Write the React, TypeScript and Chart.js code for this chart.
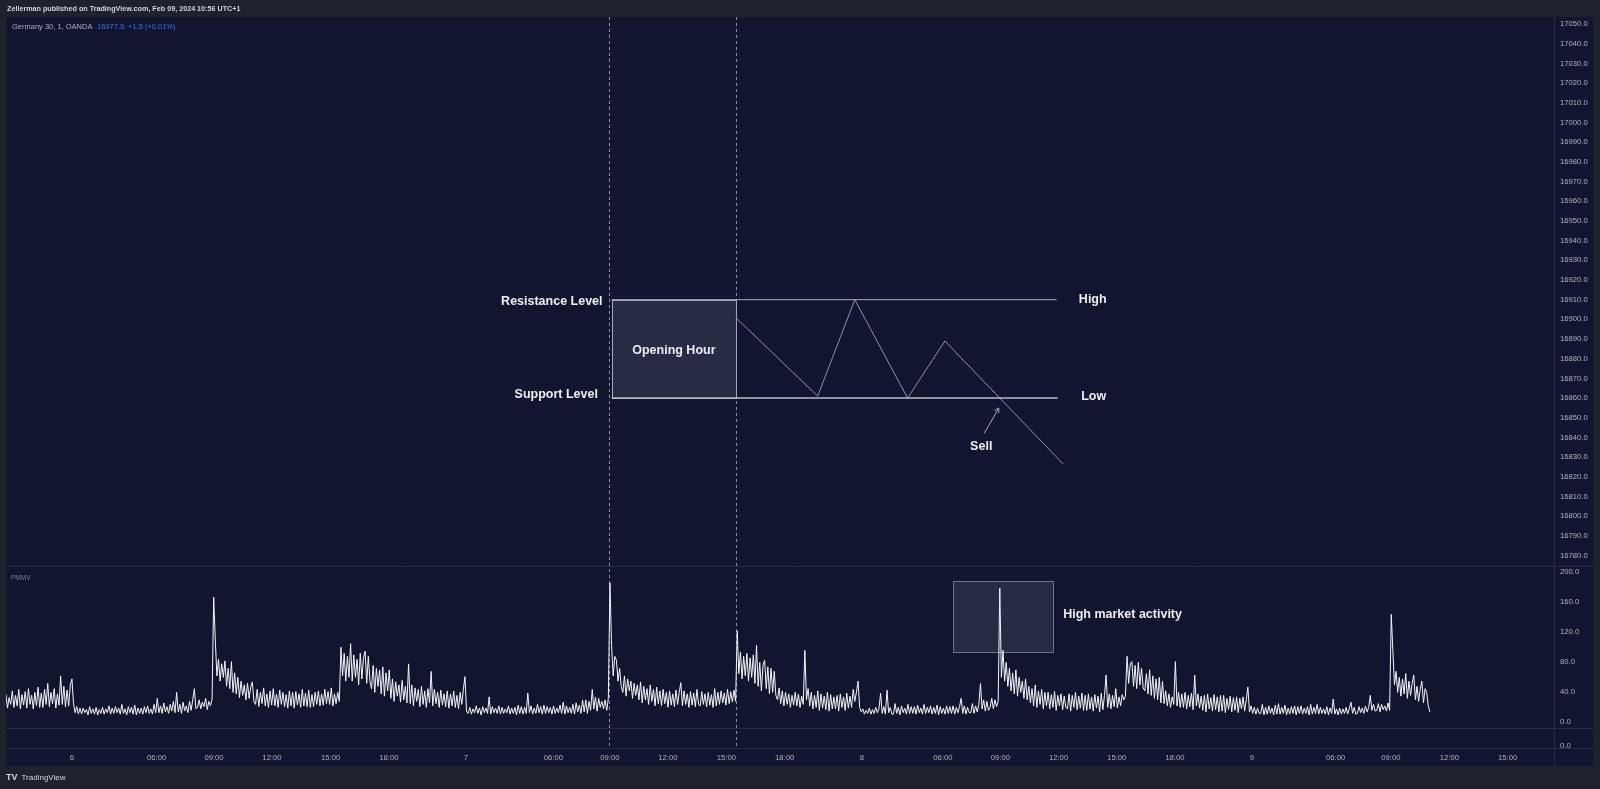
import React, { useEffect, useRef } from "react";
import { Chart, registerables } from "chart.js";

Chart.register(...registerables);

// ---------------- data ----------------
// x unit: trading-session hours, 0 = first bar of day "6"
const X_TICK_LABELS = [
  "6", "06:00", "09:00", "12:00", "15:00", "18:00",
  "7", "06:00", "09:00", "12:00", "15:00", "18:00",
  "8", "06:00", "09:00", "12:00", "15:00", "18:00",
  "9", "06:00", "09:00", "12:00", "15:00",
];
const X_TICK_HOURS = [
  0, 4.38, 7.35, 10.35, 13.38, 16.4,
  20.38, 24.91, 27.83, 30.83, 33.86, 36.87,
  40.87, 45.06, 48.03, 51.04, 54.05, 57.06,
  61.04, 65.37, 68.23, 71.26, 74.27,
];
const PRICE_TICKS = [
  16780, 16790, 16800, 16810, 16820, 16830, 16840, 16850, 16860, 16870,
  16880, 16890, 16900, 16910, 16920, 16930, 16940, 16950, 16960, 16970,
  16980, 16990, 17000, 17010, 17020, 17030, 17040, 17050,
];
const PMMV_TICKS = [0, 40, 80, 120, 160, 200];
const EMPTY_PANE_TICKS = [0];

// PMMV indicator, sampled every 5 minutes starting at -3.5 session hours (one row = one hour)
const PMMV_START_H = -3.5;
const PMMV_STEP_H = 1 / 12;
const PMMV_VALUES = [
  21, 38, 19, 33, 24, 42, 20, 36, 22, 44, 18, 37,
  23, 41, 19, 45, 24, 36, 18, 40, 22, 47, 20, 39,
  20, 44, 24, 52, 21, 40, 25, 45, 19, 38, 23, 62,
  24, 48, 21, 43, 22, 50, 58, 25, 13, 21, 11, 19,
  11, 19, 13, 17, 10, 21, 12, 18, 11, 20, 10, 17,
  12, 20, 11, 18, 13, 22, 11, 19, 12, 21, 13, 19,
  11, 24, 12, 18, 10, 21, 13, 20, 11, 23, 10, 19,
  12, 19, 11, 21, 13, 22, 12, 18, 11, 24, 13, 32,
  13, 22, 12, 26, 14, 21, 12, 24, 15, 28, 13, 40,
  14, 24, 12, 27, 15, 22, 13, 28, 16, 30, 45, 18,
  20, 30, 18, 27, 21, 32, 17, 28, 22, 31, 167, 110,
  62, 84, 55, 78, 60, 82, 48, 72, 45, 81, 40, 66,
  38, 60, 33, 55, 36, 50, 30, 52, 32, 47, 54, 28,
  24, 44, 21, 40, 25, 46, 22, 38, 20, 42, 23, 45,
  22, 38, 20, 43, 24, 40, 21, 37, 19, 42, 22, 40,
  19, 41, 23, 38, 20, 44, 22, 39, 21, 43, 20, 37,
  21, 40, 24, 42, 22, 38, 23, 44, 25, 41, 24, 46,
  22, 38, 25, 40, 28, 100, 62, 92, 55, 88, 60, 105,
  55, 90, 60, 84, 50, 92, 58, 86, 95, 52, 88, 55,
  45, 76, 40, 72, 48, 70, 38, 74, 35, 66, 42, 70,
  32, 58, 28, 54, 35, 50, 27, 56, 30, 48, 26, 78,
  25, 50, 22, 46, 28, 44, 21, 48, 24, 42, 20, 45,
  26, 68, 22, 44, 25, 40, 20, 43, 23, 38, 21, 42,
  19, 38, 22, 42, 20, 36, 18, 40, 24, 44, 61, 14,
  12, 20, 11, 18, 13, 22, 12, 19, 10, 21, 13, 19,
  12, 34, 11, 21, 13, 19, 12, 22, 11, 20, 12, 18,
  13, 22, 11, 19, 12, 20, 10, 23, 12, 21, 11, 20,
  12, 39, 13, 22, 11, 19, 12, 24, 13, 21, 11, 23,
  12, 21, 13, 20, 11, 22, 12, 19, 13, 23, 12, 27,
  11, 22, 13, 20, 12, 24, 11, 26, 14, 23, 12, 30,
  14, 30, 12, 28, 16, 44, 18, 34, 15, 32, 20, 28,
  18, 30, 16, 32, 186, 103, 62, 88, 83, 55, 72, 48,
  40, 62, 35, 58, 42, 55, 32, 52, 36, 50, 30, 54,
  26, 48, 30, 45, 24, 50, 28, 44, 22, 47, 25, 42,
  22, 44, 25, 40, 20, 42, 23, 38, 21, 43, 24, 40,
  53, 22, 42, 24, 38, 20, 41, 23, 39, 21, 44, 24,
  22, 41, 24, 38, 21, 40, 23, 37, 20, 45, 22, 40,
  24, 42, 26, 39, 23, 44, 25, 41, 27, 43, 28, 122,
  65, 94, 58, 88, 62, 92, 55, 86, 60, 90, 52, 103,
  48, 80, 42, 76, 83, 45, 74, 38, 72, 40, 68, 36,
  30, 46, 25, 42, 22, 40, 24, 38, 20, 36, 23, 40,
  22, 38, 20, 35, 24, 96, 30, 45, 22, 40, 18, 36,
  20, 42, 16, 38, 19, 35, 17, 40, 15, 37, 18, 34,
  18, 36, 15, 38, 20, 34, 16, 39, 19, 35, 20, 44,
  28, 40, 55, 20, 14, 18, 11, 16, 12, 19, 11, 17,
  12, 20, 13, 18, 39, 12, 21, 11, 43, 13, 20, 11,
  11, 25, 12, 20, 10, 22, 13, 19, 11, 24, 12, 21,
  12, 21, 11, 23, 13, 19, 11, 24, 12, 20, 13, 22,
  11, 20, 12, 23, 10, 21, 12, 19, 11, 22, 12, 21,
  12, 22, 11, 20, 13, 21, 32, 12, 22, 11, 20, 13,
  13, 25, 12, 22, 14, 24, 52, 18, 30, 15, 28, 16,
  20, 32, 18, 30, 21, 28, 179, 60, 96, 55, 80, 48,
  72, 42, 66, 38, 70, 35, 60, 40, 55, 32, 58, 30,
  48, 26, 45, 22, 50, 20, 42, 24, 44, 18, 40, 22,
  40, 18, 37, 20, 41, 16, 36, 22, 38, 17, 35, 20,
  18, 38, 15, 36, 20, 40, 17, 35, 19, 39, 16, 36,
  16, 38, 18, 34, 15, 37, 19, 35, 14, 39, 17, 36,
  63, 20, 38, 18, 36, 21, 45, 19, 34, 22, 37, 30,
  35, 88, 52, 78, 81, 48, 76, 45, 80, 50, 72, 46,
  42, 65, 38, 70, 36, 62, 32, 58, 30, 60, 26, 55,
  25, 42, 22, 38, 20, 34, 24, 81, 22, 40, 20, 38,
  20, 40, 18, 36, 21, 39, 17, 63, 22, 38, 19, 35,
  16, 36, 14, 38, 18, 33, 15, 37, 17, 34, 14, 36,
  15, 36, 13, 32, 17, 35, 14, 33, 16, 34, 13, 32,
  18, 34, 15, 30, 47, 14, 22, 12, 20, 11, 19, 12,
  12, 24, 10, 20, 11, 22, 12, 19, 10, 23, 11, 25,
  11, 20, 12, 23, 10, 19, 11, 21, 12, 22, 10, 21,
  12, 22, 11, 19, 12, 21, 10, 24, 11, 20, 12, 24,
  11, 20, 12, 18, 11, 21, 10, 19, 12, 31, 11, 18,
  10, 19, 11, 18, 12, 20, 11, 19, 27, 12, 20, 11,
  12, 21, 13, 19, 12, 22, 14, 20, 36, 16, 24, 15,
  16, 25, 14, 24, 17, 22, 15, 26, 16, 144, 96, 50,
  68, 40, 60, 35, 58, 38, 65, 32, 55, 36, 52, 63,
  30, 48, 28, 44, 55, 26, 45, 40, 22, 14,
];

// drawings on the price pane
const RANGE_HIGH = 16910;
const RANGE_LOW = 16860;
const OPEN_BOX_X = [27.92, 34.33];
const RESISTANCE_X = [27.92, 50.94];
const SUPPORT_X = [27.92, 51.0];
const ZIGZAG_X = [34.33, 38.58, 40.5, 43.23, 45.16, 51.28];
const ZIGZAG_Y = [16901, 16861, 16910, 16860, 16889, 16826.5];
const SELL_ARROW_X = [47.19, 47.95];
const SELL_ARROW_Y = [16842, 16855];
const SESSION_LINES_X = [27.8, 34.36];
// drawing on the PMMV pane
const ACTIVITY_BOX_X = [45.59, 50.73];
const ACTIVITY_BOX_Y = [94, 189];

const PRICE_NOTES = [
  { text: "Resistance Level", x: 27.45, y: 16909.3, align: "right" },
  { text: "Support Level", x: 27.21, y: 16861.6, align: "right" },
  { text: "Opening Hour", x: 31.14, y: 16884.4, align: "center" },
  { text: "High", x: 52.09, y: 16910.2, align: "left" },
  { text: "Low", x: 52.21, y: 16860.6, align: "left" },
  { text: "Sell", x: 47.04, y: 16835.3, align: "center" },
];
const PMMV_NOTES = [{ text: "High market activity", x: 51.28, y: 143.2, align: "left" }];

// ---------------- styles ----------------
const FRAME = "#1e222d";
const NAVY = "#121530";
const SEP = "#262b42";
const AXIS_TXT = "#aeb1ba";
const NOTE_TXT = "#eceef2";
const NOTE_FONT = "bold 12.5px 'Liberation Sans', Arial, sans-serif";
const AXIS_FONT = { family: "'Liberation Sans', Arial, sans-serif", size: 7.7 };

const pairs = (xs: number[], ys: number[]) => xs.map((x, i) => ({ x, y: ys[i] }));

const decor = {
  id: "tvDecor",
  beforeDraw(chart: any) {
    const { ctx } = chart;
    ctx.save();
    ctx.fillStyle = FRAME;
    ctx.fillRect(0, 0, 1600, 789);
    ctx.fillStyle = NAVY;
    ctx.fillRect(6, 17, 1587, 749);
    ctx.restore();
  },
  beforeDatasetsDraw(chart: any) {
    const { ctx, chartArea } = chart;
    const { x, y, yp } = chart.scales;
    ctx.save();
    ctx.strokeStyle = "#8a8d97";
    ctx.lineWidth = 1;
    ctx.setLineDash([3, 3]);
    for (const v of SESSION_LINES_X) {
      const px = Math.round(x.getPixelForValue(v)) + 0.5;
      ctx.beginPath();
      ctx.moveTo(px, chartArea.top);
      ctx.lineTo(px, chartArea.bottom);
      ctx.stroke();
    }
    ctx.setLineDash([]);
    const box = (xs: number[], ys: number[], sc: any, fill: string, stroke: string) => {
      const x0 = Math.round(x.getPixelForValue(xs[0])) + 0.5;
      const x1 = Math.round(x.getPixelForValue(xs[1])) + 0.5;
      const y0 = Math.round(sc.getPixelForValue(ys[1])) + 0.5;
      const y1 = Math.round(sc.getPixelForValue(ys[0])) + 0.5;
      ctx.fillStyle = fill;
      ctx.fillRect(x0, y0, x1 - x0, y1 - y0);
      ctx.strokeStyle = stroke;
      ctx.strokeRect(x0, y0, x1 - x0, y1 - y0);
    };
    box(OPEN_BOX_X, [RANGE_LOW, RANGE_HIGH], y, "rgba(120,123,140,0.22)", "#a3a6b0");
    box(ACTIVITY_BOX_X, ACTIVITY_BOX_Y, yp, "rgba(120,123,140,0.22)", "#6f7280");
    ctx.restore();
  },
  afterDatasetsDraw(chart: any) {
    const { ctx } = chart;
    const { x, y, yp } = chart.scales;
    ctx.save();
    const ax0 = x.getPixelForValue(SELL_ARROW_X[0]);
    const ay0 = y.getPixelForValue(SELL_ARROW_Y[0]);
    const ax1 = x.getPixelForValue(SELL_ARROW_X[1]);
    const ay1 = y.getPixelForValue(SELL_ARROW_Y[1]);
    const ang = Math.atan2(ay1 - ay0, ax1 - ax0);
    ctx.strokeStyle = "#a3a6b0";
    ctx.lineWidth = 1;
    ctx.beginPath();
    for (const d of [-0.5, 0.5]) {
      ctx.moveTo(ax1, ay1);
      ctx.lineTo(ax1 - 5 * Math.cos(ang + d), ay1 - 5 * Math.sin(ang + d));
    }
    ctx.stroke();
    ctx.fillStyle = NOTE_TXT;
    ctx.font = NOTE_FONT;
    ctx.textBaseline = "middle";
    for (const n of PRICE_NOTES) {
      ctx.textAlign = n.align;
      ctx.fillText(n.text, x.getPixelForValue(n.x), y.getPixelForValue(n.y));
    }
    for (const n of PMMV_NOTES) {
      ctx.textAlign = n.align;
      ctx.fillText(n.text, x.getPixelForValue(n.x), yp.getPixelForValue(n.y));
    }
    ctx.restore();
  },
  afterDraw(chart: any) {
    const { ctx } = chart;
    ctx.save();
    ctx.strokeStyle = SEP;
    ctx.lineWidth = 1;
    ctx.beginPath();
    ctx.moveTo(6, 566.5); ctx.lineTo(1593, 566.5);
    ctx.moveTo(6, 728.5); ctx.lineTo(1593, 728.5);
    ctx.moveTo(1554, 748.5); ctx.lineTo(1593, 748.5);
    ctx.moveTo(1554.5, 748); ctx.lineTo(1554.5, 766);
    ctx.stroke();
    ctx.textBaseline = "middle";
    ctx.textAlign = "left";
    ctx.fillStyle = "#d1d4dc";
    ctx.font = "bold 7.2px 'Liberation Sans', Arial, sans-serif";
    ctx.fillText("Zellerman published on TradingView.com, Feb 09, 2024 10:56 UTC+1", 7, 9.5);
    ctx.font = "7.5px 'Liberation Sans', Arial, sans-serif";
    ctx.fillStyle = "#a9acb6";
    ctx.fillText("Germany 30, 1, OANDA", 12, 27);
    ctx.fillStyle = "#3a6df0";
    ctx.fillText("16977.5", 97, 27);
    ctx.fillText("+1.5 (+0.01%)", 128, 27);
    ctx.fillStyle = "#7b7f8c";
    ctx.font = "6.5px 'Liberation Sans', Arial, sans-serif";
    ctx.fillText("PMMV", 11, 578);
    ctx.fillStyle = "#d1d4dc";
    ctx.font = "bold 9px 'Liberation Sans', Arial, sans-serif";
    ctx.fillText("TV", 6, 778);
    ctx.font = "8px 'Liberation Sans', Arial, sans-serif";
    ctx.fillText("TradingView", 21.5, 778);
    ctx.restore();
  },
};

const yAxisBase = (ticks: number[], fmt: (v: number) => string) => ({
  type: "linear" as const,
  position: "right" as const,
  stack: "panes",
  grid: { display: false, drawTicks: false },
  border: { display: true, color: SEP },
  afterBuildTicks: (s: any) => {
    s.ticks = ticks.map((v) => ({ value: v }));
  },
  afterFit: (s: any) => {
    s.width = 39;
  },
  ticks: {
    padding: 6,
    color: AXIS_TXT,
    font: AXIS_FONT,
    autoSkip: false,
    callback: (v: any) => fmt(Number(v)),
  },
});

export default function App() {
  const ref = useRef<HTMLCanvasElement>(null);
  useEffect(() => {
    const canvas = ref.current;
    if (!canvas) return;
    const pmmvData = PMMV_VALUES.map((v, i) => ({ x: PMMV_START_H + i * PMMV_STEP_H, y: v }));
    const chart = new Chart(canvas, {
      type: "line",
      data: {
        datasets: [
          {
            label: "PMMV",
            data: pmmvData,
            yAxisID: "yp",
            borderColor: "#f4f5f8",
            borderWidth: 1,
            pointRadius: 0,
            tension: 0,
          },
          {
            label: "Resistance",
            data: pairs(RESISTANCE_X, [RANGE_HIGH, RANGE_HIGH]),
            yAxisID: "y",
            borderColor: "#a9acb6",
            borderWidth: 1,
            pointRadius: 0,
          },
          {
            label: "Support",
            data: pairs(SUPPORT_X, [RANGE_LOW, RANGE_LOW]),
            yAxisID: "y",
            borderColor: "#b8bbc4",
            borderWidth: 1.5,
            pointRadius: 0,
          },
          {
            label: "Path",
            data: pairs(ZIGZAG_X, ZIGZAG_Y),
            yAxisID: "y",
            borderColor: "#8f929c",
            borderWidth: 1,
            pointRadius: 0,
            tension: 0,
          },
          {
            label: "Sell arrow",
            data: pairs(SELL_ARROW_X, SELL_ARROW_Y),
            yAxisID: "y",
            borderColor: "#a3a6b0",
            borderWidth: 1,
            pointRadius: 0,
          },
        ],
      },
      options: {
        responsive: false,
        maintainAspectRatio: false,
        devicePixelRatio: 1,
        animation: false,
        events: [],
        layout: { padding: { left: 6, top: 17, right: 7, bottom: 23 } },
        plugins: { legend: { display: false }, tooltip: { enabled: false } },
        scales: {
          x: {
            type: "linear",
            position: "bottom",
            min: -3.41,
            max: 76.67,
            grid: { display: false, drawTicks: false },
            border: { display: true, color: SEP },
            afterBuildTicks: (s: any) => {
              s.ticks = X_TICK_HOURS.map((v) => ({ value: v }));
            },
            afterFit: (s: any) => {
              s.height = 18;
            },
            ticks: {
              autoSkip: false,
              maxRotation: 0,
              minRotation: 0,
              padding: 5,
              color: AXIS_TXT,
              font: AXIS_FONT,
              callback: (_v: any, i: number) => X_TICK_LABELS[i],
            },
          },
          y: { ...yAxisBase(PRICE_TICKS, (v) => v.toFixed(1)), stackWeight: 549, min: 16774.7, max: 17053.6 },
          yp: { ...yAxisBase(PMMV_TICKS, (v) => v.toFixed(1)), stackWeight: 162, min: -7.5, max: 208.5 },
          y3: { ...yAxisBase(EMPTY_PANE_TICKS, (v) => v.toFixed(1)), stackWeight: 20, min: -2, max: 18 },
        },
      } as any,
      plugins: [decor as any],
    });
    return () => chart.destroy();
  }, []);
  return (
    <div style={{ position: "fixed", left: 0, top: 0, width: 1600, height: 789, background: FRAME }}>
      <canvas ref={ref} width={1600} height={789} style={{ display: "block", width: 1600, height: 789 }} />
    </div>
  );
}
